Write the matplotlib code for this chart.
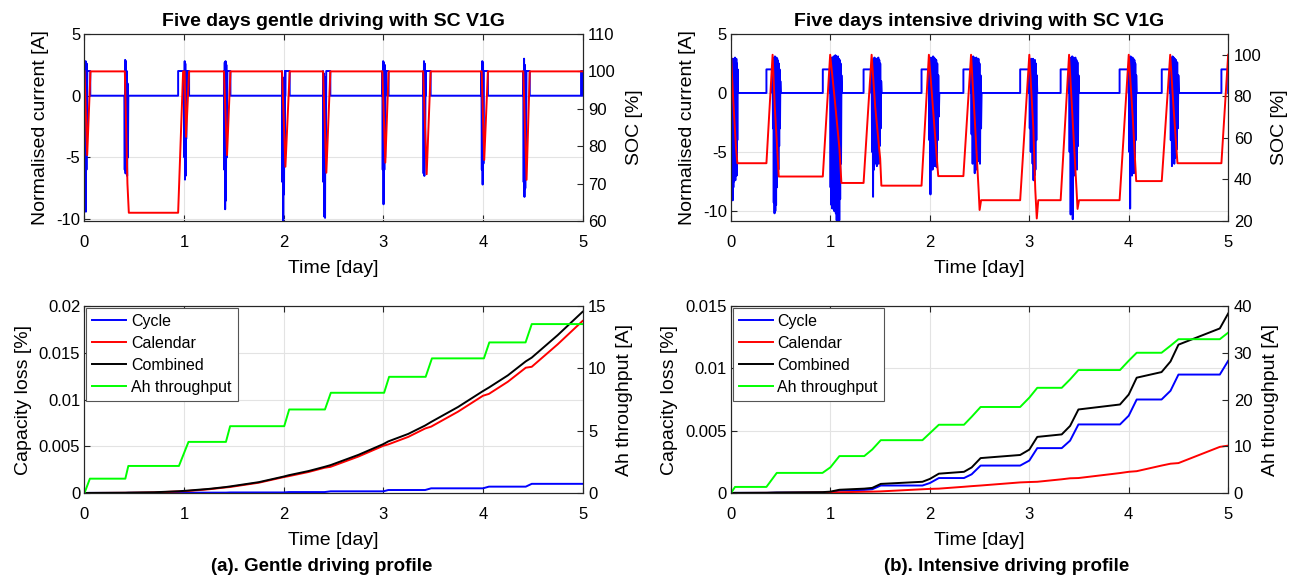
import numpy as np
import matplotlib
matplotlib.use("Agg")
import matplotlib.pyplot as plt

plt.rcParams['font.family'] = ['Liberation Sans', 'DejaVu Sans']
plt.rcParams['axes.unicode_minus'] = False

BLUE, RED, GREEN, DARK = '#0000ff', '#ff0000', '#00ff00', '#262626'

# ---------- gentle driving: current [A] ----------
gentle_drive_start = [0.0, 0.400, 1.000, 1.400, 1.983, 2.395, 2.990, 3.400, 3.985, 4.405]
gentle_drive_end = [0.028, 0.440, 1.027, 1.432, 2.015, 2.427, 3.022, 3.424, 4.009, 4.437]
gentle_drive_current = [
    [2.0, -9.0, 2.7, -8.5, 2.8, -9.4, 2.5, -6.0, 2.6, -4.0, 2.0],
    [0.0, -6.0, 2.9, -6.3, 2.8, -4.0, 2.0, -6.5, 1.0, -5.0, 0.0],
    [2.0, -5.0, 2.8, -6.8, 2.6, -6.5, 2.0, -3.5, 1.5, 2.0],
    [2.0, -6.0, 2.7, -9.2, 2.8, -8.5, 2.5, -5.0, 2.0],
    [2.0, -7.0, 1.0, -10.8, 0.5, -8.0, 1.5, -4.0, 2.0],
    [2.0, -7.0, 1.8, -9.8, 1.0, -9.9, 1.5, -6.0, 2.0],
    [2.0, -6.0, 2.8, -8.8, 2.7, -6.0, 2.5, -5.0, 2.0],
    [2.0, -6.3, 2.8, -6.5, 2.6, -5.0, 2.0],
    [2.0, -6.0, 2.8, -7.2, 2.7, -5.5, 2.0],
    [2.0, -7.0, 3.0, -8.2, 2.5, -7.5, 2.0, -6.0, 2.0],
]
gentle_charge_on = [0.028, 0.940, 1.027, 1.432, 2.015, 2.427, 3.022, 3.424, 4.009, 4.437, 4.985]
gentle_charge_off = [0.058, 1.000, 1.050, 1.465, 2.060, 2.468, 3.053, 3.475, 4.050, 4.470, 5.000]

# ---------- gentle driving: SOC [%] ----------
gentle_soc_t = [0.0, 0.027, 0.06, 0.405, 0.431, 0.445, 0.94, 0.99, 1.005, 1.02, 1.05,
                1.40, 1.431, 1.465, 1.983, 2.017, 2.06, 2.395, 2.428, 2.468,
                2.99, 3.02, 3.053, 3.40, 3.435, 3.475, 3.987, 4.013, 4.05,
                4.405, 4.438, 4.47, 5.0]
gentle_soc = [100, 77.6, 100, 100, 70, 62.2, 62.2, 100, 100, 82.5, 100,
              100, 77.6, 100, 100, 74.5, 100, 100, 72.9, 100,
              100, 75.6, 100, 100, 72.5, 100, 100, 76.3, 100,
              100, 71, 100, 100]

# ---------- intensive driving: current [A] ----------
intensive_drive_start = [0.0, 0.418, 0.997, 1.414, 1.990, 2.414, 3.000, 3.400, 4.000, 4.417]
intensive_drive_end = [0.070, 0.500, 1.115, 1.515, 2.095, 2.520, 3.080, 3.500, 4.080, 4.505]
intensive_drive_current = [
    [2.0, -6.0, 2.8, -8.8, 2.9, -9.1, 2.7, -8.0, 2.9, -7.5, 2.8, -6.5, 3.0, -7.4, 2.6, -5.0,
     2.9, -7.0, 2.5, -4.0, 2.0, 0.0],
    [2.0, -3.0, 2.9, -9.3, 3.0, -10.2, 3.1, -10.0, 2.8, -9.5, 3.0, -8.0, 2.9, -6.0, 2.7, -6.5,
     2.5, -4.5, 2.0, -3.0, 1.0, 0.0],
    [2.0, -8.0, 2.8, -9.5, 3.0, -9.8, 2.9, -9.6, 3.1, -10.0, 3.0, -9.0, 3.2, -10.2, 3.1, -10.8,
     3.0, -10.5, 3.1, -11.0, 2.9, -10.8, 2.8, -9.0, 2.5, -6.0, 1.5, 0.0],
    [2.0, -5.0, 2.8, -8.8, 2.9, -6.5, 3.0, -6.0, 2.9, -5.5, 2.9, -6.2, 2.8, -5.0, 3.0, -6.0,
     2.8, -4.5, 2.5, -3.0, 1.0, 0.0],
    [2.0, -4.0, 2.9, -8.6, 3.0, -6.0, 2.9, -6.5, 3.1, -5.5, 3.0, -6.2, 2.9, -5.8, 2.8, -6.3,
     2.5, -4.0, 1.5, -2.0, 0.0],
    [2.0, -3.5, 2.9, -6.0, 3.1, -5.5, 3.0, -6.8, 2.9, -5.0, 3.0, -6.5, 2.8, -5.8, 2.9, -4.5,
     2.5, -6.0, 1.5, -3.0, 0.0],
    [2.0, -3.0, 2.5, -5.0, 2.9, -4.8, 2.8, -6.0, 2.9, -7.4, 2.7, -7.0, 2.8, -6.5, 2.5, -4.0,
     1.5, 0.0],
    [2.0, -5.0, 2.9, -10.3, 3.0, -7.0, 3.1, -10.7, 3.0, -6.5, 2.9, -7.0, 3.0, -6.0, 2.8, -6.5,
     2.6, -4.5, 1.5, 0.0],
    [2.0, -5.0, 3.0, -9.8, 3.1, -6.5, 2.9, -7.0, 3.0, -6.0, 2.9, -6.8, 2.8, -5.5, 2.5, -4.0,
     1.5, 0.0],
    [2.0, -4.0, 2.9, -6.2, 3.1, -5.0, 3.0, -6.0, 2.9, -5.5, 2.8, -4.8, 2.6, -3.0, 1.5, 0.0],
]
intensive_charge_on = [0.356, 0.923, 1.333, 1.916, 2.337, 2.908, 3.315, 3.908, 4.332, 4.932]
intensive_charge_off = [0.418, 0.997, 1.414, 1.990, 2.414, 3.000, 3.400, 4.000, 4.417, 5.000]

# ---------- intensive driving: SOC [%] ----------
intensive_soc_t = [0.0, 0.02, 0.05, 0.064, 0.356, 0.418, 0.44, 0.47, 0.48, 0.923, 0.997,
                   1.04, 1.09, 1.11, 1.333, 1.414, 1.45, 1.50, 1.512, 1.916, 1.99,
                   2.03, 2.07, 2.084, 2.337, 2.414, 2.45, 2.49, 2.50, 2.515, 2.908,
                   3.0, 3.04, 3.06, 3.075, 3.09, 3.315, 3.40, 3.44, 3.475, 3.485, 3.50,
                   3.908, 4.0, 4.04, 4.075, 4.332, 4.417, 4.45, 4.49, 4.932, 5.0]
intensive_soc = [100, 80, 55, 47.8, 47.8, 100, 75, 50, 41.4, 41.4, 100,
                 80, 55, 38.3, 38.3, 100, 75, 50, 37.0, 37.0, 100,
                 75, 50, 41.6, 41.6, 100, 70, 35, 25.3, 30.0, 30.0,
                 100, 65, 35, 21.2, 30.0, 30.0, 100, 65, 35, 25.8, 30.0,
                 30.0, 100, 70, 39.2, 39.2, 100, 75, 47.8, 47.8, 100]

# ---------- gentle driving: capacity loss [%] and Ah throughput ----------
gentle_loss_t = [0, 0.05, 0.41, 0.44, 0.7, 0.95, 1.04, 1.25, 1.42, 1.46, 1.75, 2.0, 2.05, 2.25,
                 2.41, 2.47, 2.75, 3.0, 3.05, 3.25, 3.42, 3.48, 3.75, 4.0, 4.06, 4.25, 4.43,
                 4.49, 4.75, 5.0]
gentle_cycle = [0, 0.00001, 0.00001, 0.00002, 0.00002, 0.00002, 0.00004, 0.00004, 0.00004,
                0.00006, 0.00006, 0.00006, 0.0001, 0.0001, 0.0001, 0.00018, 0.00018, 0.00018,
                0.00032, 0.00032, 0.00032, 0.0005, 0.0005, 0.0005, 0.00068, 0.00068, 0.00068,
                0.00098, 0.00098, 0.00098]
gentle_calendar = [0, 0.000001, 0.00002, 0.00002, 0.00006, 0.00017, 0.00022, 0.0004, 0.0006,
                   0.00064, 0.0011, 0.0017, 0.0018, 0.00225, 0.0027, 0.0028, 0.0039, 0.00505,
                   0.0052, 0.006, 0.0069, 0.0071, 0.0087, 0.0104, 0.0106, 0.0119, 0.0134,
                   0.0135, 0.0159, 0.0184]
gentle_combined = [0, 0.000011, 0.00003, 0.00004, 0.00008, 0.00019, 0.00026, 0.00044, 0.00064,
                   0.0007, 0.00116, 0.00176, 0.0019, 0.00235, 0.0028, 0.00298, 0.00408, 0.00523,
                   0.00552, 0.00632, 0.00722, 0.0076, 0.0092, 0.0109, 0.01128, 0.01258, 0.01408,
                   0.01448, 0.01688, 0.01938]
gentle_ah_t = [0, 0.054, 0.41, 0.44, 0.948, 1.044, 1.42, 1.462, 2.005, 2.055, 2.414, 2.473,
               3.008, 3.058, 3.425, 3.488, 4.01, 4.064, 4.428, 4.49, 5.0]
gentle_ah = [0, 1.15, 1.15, 2.17, 2.17, 4.1, 4.1, 5.36, 5.36, 6.7, 6.7, 8.04,
             8.04, 9.32, 9.32, 10.8, 10.8, 12.08, 12.08, 13.55, 13.55]

# ---------- intensive driving: capacity loss [%] and Ah throughput ----------
intensive_loss_t = [0, 0.04, 0.356, 0.46, 0.92, 1.0, 1.09, 1.34, 1.42, 1.506, 1.925, 2.0, 2.09,
                    2.343, 2.42, 2.51, 2.908, 3.0, 3.08, 3.326, 3.41, 3.494, 3.912, 4.0, 4.08,
                    4.33, 4.42, 4.5, 4.916, 5.0]
intensive_cycle = [0, 0.00001, 0.00001, 0.00003, 0.00003, 0.00006, 0.0002, 0.00025, 0.0003,
                   0.0006, 0.0006, 0.0008, 0.0012, 0.0012, 0.0015, 0.0022, 0.0022, 0.0026,
                   0.0036, 0.0036, 0.0042, 0.0055, 0.0055, 0.0062, 0.0075, 0.0075, 0.0082,
                   0.0095, 0.0095, 0.0106]
intensive_calendar = [0, 0, 0.00001, 0.00001, 0.00004, 0.00005, 0.00006, 0.0001, 0.00011,
                      0.00013, 0.0003, 0.00033, 0.00035, 0.0005, 0.00055, 0.0006, 0.00085,
                      0.00088, 0.0009, 0.0011, 0.00118, 0.0012, 0.0016, 0.0017, 0.00175,
                      0.0022, 0.00235, 0.0024, 0.0037, 0.0038]
intensive_combined = [0, 0.00001, 0.00002, 0.00004, 0.00007, 0.00011, 0.00026, 0.00035,
                      0.00041, 0.00073, 0.0009, 0.00113, 0.00155, 0.0017, 0.00205, 0.0028,
                      0.00305, 0.00348, 0.0045, 0.0047, 0.00538, 0.0067, 0.0071, 0.0079,
                      0.00925, 0.0097, 0.01055, 0.0119, 0.0132, 0.0144]
intensive_ah = [0, 1.3, 1.3, 4.3, 4.3, 5.5, 7.9, 7.9, 9.3, 11.3, 11.3, 12.8, 14.6, 14.6, 16.3,
                18.4, 18.4, 20.4, 22.5, 22.5, 24.3, 26.3, 26.3, 28.3, 30.0, 30.0, 31.5, 32.9,
                32.9, 34.3]

loss_labels = ['Cycle', 'Calendar', 'Combined', 'Ah throughput']


def current_trace(d_start, d_end, d_vals, c_on, c_off):
    pieces = []
    for a, b in zip(c_on, c_off):
        pieces.append(([a, a, b, b], [0, 2, 2, 0]))
    for a, b, v in zip(d_start, d_end, d_vals):
        ts = list(np.linspace(a, b, len(v)))
        pieces.append(([a] + ts + [b], [0] + list(v) + [0]))
    pieces.sort(key=lambda p: p[0][0])
    t, y = [0.0], [0.0]
    for pt, pv in pieces:
        t += pt
        y += pv
    return t, y


def style(ax, ax2):
    for a in (ax, ax2):
        for s in a.spines.values():
            s.set_color(DARK)
            s.set_linewidth(0.8)
    ax.tick_params(axis='both', direction='in', top=True, right=False, length=4,
                   labelsize=12, colors=DARK, labelcolor='black')
    ax.tick_params(axis='x', pad=10)
    ax.tick_params(axis='y', pad=3)
    ax2.tick_params(axis='y', direction='in', length=4, labelsize=12, colors=DARK,
                    labelcolor='black', pad=4)
    ax.grid(True, color='#e3e3e3', lw=0.8)
    ax.set_axisbelow(True)
    ax.set_xlim(0, 5)
    ax.set_xticks([0, 1, 2, 3, 4, 5])
    ax.set_xlabel('Time [day]', fontsize=14, labelpad=7)


fig = plt.figure(figsize=(12.98, 5.8), dpi=100)
pos = {
    'tl': [0.0651, 0.6190, 0.3837, 0.3224],
    'tr': [0.5632, 0.6190, 0.3830, 0.3224],
    'bl': [0.0651, 0.1500, 0.3837, 0.3224],
    'br': [0.5632, 0.1500, 0.3830, 0.3224],
}
LW = 1.4

# top panels
for key, title, ds, de, dv, con, coff, st, sv, ylo, soc_lim, soc_ticks in [
        ('tl', 'Five days gentle driving with SC V1G', gentle_drive_start, gentle_drive_end,
         gentle_drive_current, gentle_charge_on, gentle_charge_off, gentle_soc_t, gentle_soc,
         -10.15, (60, 110), [60, 70, 80, 90, 100, 110]),
        ('tr', 'Five days intensive driving with SC V1G', intensive_drive_start,
         intensive_drive_end, intensive_drive_current, intensive_charge_on,
         intensive_charge_off, intensive_soc_t, intensive_soc,
         -10.85, (20, 110), [20, 40, 60, 80, 100])]:
    ax = fig.add_axes(pos[key])
    ax2 = ax.twinx()
    t, i = current_trace(ds, de, dv, con, coff)
    ax.plot(t, i, color=BLUE, lw=LW)
    ax2.plot(st, sv, color=RED, lw=LW)
    ax.set_ylim(ylo, 5)
    ax.set_yticks([-10, -5, 0, 5])
    ax2.set_ylim(*soc_lim)
    ax2.set_yticks(soc_ticks)
    ax.set_ylabel('Normalised current [A]', fontsize=14, labelpad=5)
    ax2.set_ylabel('SOC [%]', fontsize=14, labelpad=7)
    ax.set_title(title, fontsize=14, fontweight='bold', pad=6)
    style(ax, ax2)

# bottom panels
for key, lt, cyc, cal, comb, aht, ah, ymax, yticks, ytl, ahmax, ahticks in [
        ('bl', gentle_loss_t, gentle_cycle, gentle_calendar, gentle_combined, gentle_ah_t,
         gentle_ah, 0.02, [0, 0.005, 0.01, 0.015, 0.02], ['0', '0.005', '0.01', '0.015', '0.02'],
         15, [0, 5, 10, 15]),
        ('br', intensive_loss_t, intensive_cycle, intensive_calendar, intensive_combined,
         intensive_loss_t, intensive_ah, 0.015, [0, 0.005, 0.01, 0.015],
         ['0', '0.005', '0.01', '0.015'], 40, [0, 10, 20, 30, 40])]:
    ax = fig.add_axes(pos[key])
    ax2 = ax.twinx()
    h1, = ax.plot(lt, cyc, color=BLUE, lw=LW)
    h2, = ax.plot(lt, cal, color=RED, lw=LW)
    h3, = ax.plot(lt, comb, color='black', lw=LW)
    h4, = ax2.plot(aht, ah, color=GREEN, lw=LW)
    ax.set_ylim(0, ymax)
    ax.set_yticks(yticks)
    ax.set_yticklabels(ytl)
    ax2.set_ylim(0, ahmax)
    ax2.set_yticks(ahticks)
    ax.set_ylabel('Capacity loss [%]', fontsize=14, labelpad=5)
    ax2.set_ylabel('Ah throughput [A]', fontsize=14, labelpad=7)
    leg = ax2.legend([h1, h2, h3, h4], loss_labels, loc='upper left', fontsize=11.5,
                     fancybox=False, framealpha=1, edgecolor='#555555', borderaxespad=0.1,
                     handlelength=2.1, handletextpad=0.3, labelspacing=0.43, borderpad=0.4)
    leg.get_frame().set_linewidth(0.8)
    style(ax, ax2)

fig.text(0.2480, 0.024, '(a). Gentle driving profile', ha='center', va='center',
         fontsize=13.5, fontweight='bold')
fig.text(0.7758, 0.024, '(b). Intensive driving profile', ha='center', va='center',
         fontsize=13.5, fontweight='bold')

fig.savefig('out.png', dpi=100)
